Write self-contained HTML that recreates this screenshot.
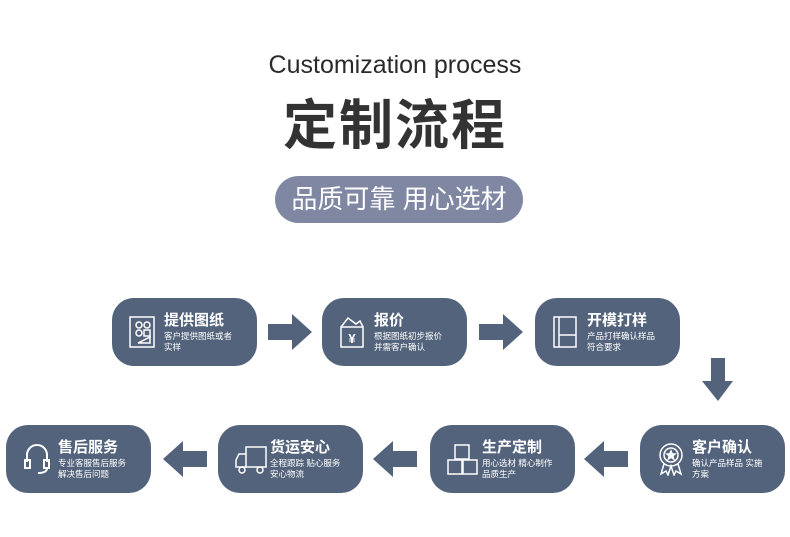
<!DOCTYPE html>
<html><head><meta charset="utf-8"><style>
body{margin:0;width:790px;height:537px;background:#fff;position:relative;overflow:hidden;font-family:"Liberation Sans","Noto Sans CJK SC",sans-serif}
.a{position:absolute}
.box{position:absolute;background:#53637c;border-radius:22px;width:145px;height:68px;color:#fff}
.box svg{position:absolute;left:16px;top:17px}
.t{position:absolute;left:52px;top:11px;font-size:15px;font-weight:bold;white-space:nowrap}
.s{position:absolute;left:52px;top:33px;font-size:8.5px;line-height:11px;width:90px}
</style></head><body>
<div class="a" style="left:0;width:790px;top:51px;text-align:center;font-size:25px;color:#2a2a2a">Customization process</div>
<div class="a" style="left:0;width:790px;top:81px;text-align:center;font-size:54px;font-weight:bold;color:#333;letter-spacing:2px">定制流程</div>
<div class="a" style="left:275px;top:176px;width:248px;height:47px;border-radius:24px;background:#7f87a3;color:#fff;font-size:26px;text-align:center;line-height:47px">品质可靠 用心选材</div>

<div class="box" style="left:112px;top:298px"><svg width="30" height="34" viewBox="0 0 30 34" fill="none" stroke="#fff" stroke-width="1.5"><rect x="2" y="2" width="24" height="30"/><circle cx="11" cy="10" r="3"/><circle cx="19" cy="10" r="3"/><circle cx="11" cy="18" r="3"/><rect x="16" y="15" width="6" height="6"/><path d="M10 28 L22 28 L22 22 Z"/></svg><div class="t">提供图纸</div><div class="s">客户提供图纸或者<br>实样</div></div>
<div class="box" style="left:322px;top:298px"><svg width="30" height="34" viewBox="0 0 30 34" fill="none" stroke="#fff" stroke-width="1.5"><rect x="3" y="12" width="22" height="20"/><path d="M3 12 L10 3 L18 9 L22 6 L25 12"/><text x="14" y="28" font-size="13" fill="#fff" stroke="none" text-anchor="middle" font-weight="bold">¥</text></svg><div class="t">报价</div><div class="s">根据图纸初步报价<br>并需客户确认</div></div>
<div class="box" style="left:535px;top:298px"><svg width="30" height="34" viewBox="0 0 30 34" fill="none" stroke="#fff" stroke-width="1.5"><rect x="3" y="2" width="22" height="30"/><line x1="8" y1="2" x2="8" y2="32"/><line x1="8" y1="20" x2="25" y2="20"/></svg><div class="t">开模打样</div><div class="s">产品打样确认样品<br>符合要求</div></div>

<div class="box" style="left:6px;top:425px"><svg width="30" height="34" viewBox="0 0 30 34" fill="none" stroke="#fff" stroke-width="2"><path d="M5 20 V13 A10 10 0 0 1 25 13 V20"/><rect x="3" y="18" width="5" height="8"/><rect x="22" y="18" width="5" height="8"/><path d="M25 26 Q25 31 16 31"/></svg><div class="t">售后服务</div><div class="s">专业客服售后服务<br>解决售后问题</div></div>
<div class="box" style="left:218px;top:425px"><svg width="34" height="34" viewBox="0 0 34 34" fill="none" stroke="#fff" stroke-width="1.5"><rect x="12" y="5" width="20" height="20"/><path d="M12 12 H5 L2 18 V25 H12"/><circle cx="8" cy="28" r="3"/><circle cx="26" cy="28" r="3"/></svg><div class="t">货运安心</div><div class="s">全程跟踪 贴心服务<br>安心物流</div></div>
<div class="box" style="left:430px;top:425px"><svg width="34" height="34" viewBox="0 0 34 34" fill="none" stroke="#fff" stroke-width="1.5"><rect x="9" y="3" width="14" height="14"/><rect x="2" y="18" width="14" height="14"/><rect x="17" y="18" width="14" height="14"/></svg><div class="t">生产定制</div><div class="s">用心选材 精心制作<br>品质生产</div></div>
<div class="box" style="left:640px;top:425px"><svg width="30" height="34" viewBox="0 0 30 34" fill="none" stroke="#fff" stroke-width="1.5"><circle cx="15" cy="13" r="11"/><circle cx="15" cy="13" r="7"/><path d="M8 22 L5 32 L10 29 L12 33 L15 24 L18 33 L20 29 L25 32 L22 22"/><path d="M15 9 L16.2 12 L19 12 L16.8 14 L17.6 17 L15 15.2 L12.4 17 L13.2 14 L11 12 L13.8 12 Z" fill="#fff"/></svg><div class="t">客户确认</div><div class="s">确认产品样品 实施<br>方案</div></div>

<svg class="a" style="left:0;top:0" width="790" height="537"><g fill="#53637c">
<path d="M268 324 H292 V314 L312 332 L292 350 V340 H268 Z"/>
<path d="M479 324 H503 V314 L523 332 L503 350 V340 H479 Z"/>
<path d="M711 358 H725 V381 H733 L718 401 L702 381 H711 Z"/>
<path d="M207 451 H183 V441 L163 459 L183 477 V467 H207 Z"/>
<path d="M417 451 H393 V441 L373 459 L393 477 V467 H417 Z"/>
<path d="M628 451 H604 V441 L584 459 L604 477 V467 H628 Z"/>
</g></svg>
</body></html>
